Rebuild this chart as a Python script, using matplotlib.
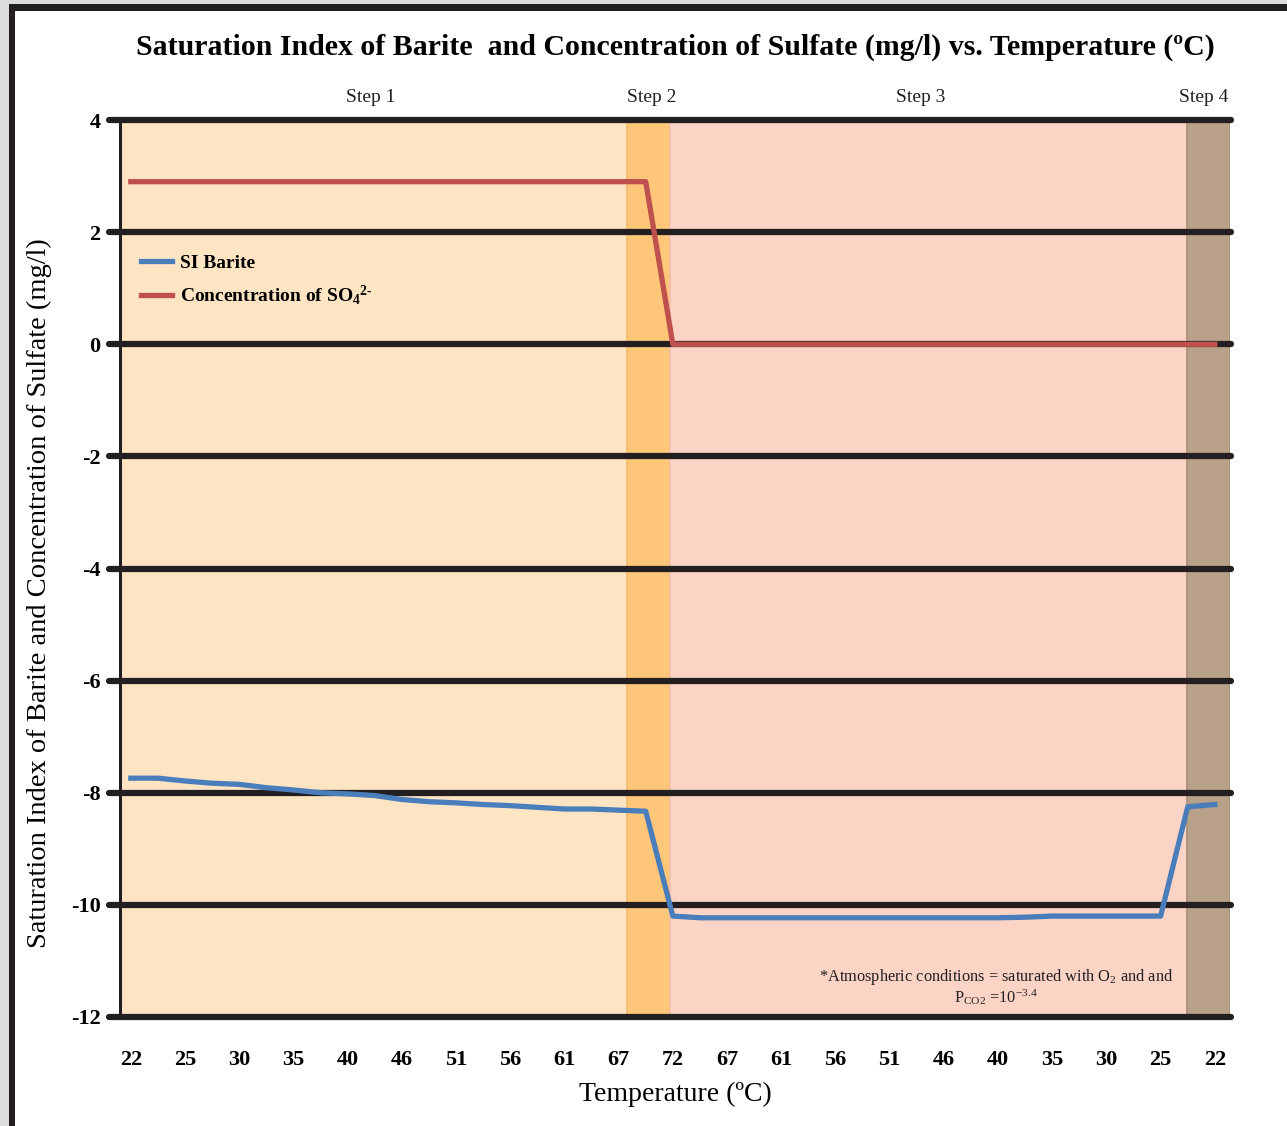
import numpy as np
import matplotlib.pyplot as plt
from matplotlib.patches import Rectangle

plt.rcParams['font.family'] = ['Liberation Serif', 'DejaVu Serif']
plt.rcParams['mathtext.fontset'] = 'custom'
plt.rcParams['mathtext.rm'] = 'Liberation Serif'
plt.rcParams['mathtext.it'] = 'Liberation Serif'
plt.rcParams['mathtext.bf'] = 'Liberation Serif:bold'

# temperature path (heating then cooling), one label per tick
temp_labels = ['22', '25', '30', '35', '40', '46', '51', '56', '61', '67', '72',
               '67', '61', '56', '51', '46', '40', '35', '30', '25', '22']

# model output sampled at half-tick steps
si_barite = [-7.74, -7.74, -7.79, -7.83, -7.85, -7.91, -7.95, -8.00, -8.02, -8.05,
             -8.12, -8.16, -8.18, -8.21, -8.23, -8.26, -8.29, -8.29, -8.31, -8.33,
             -10.20, -10.23, -10.23, -10.23, -10.23, -10.23, -10.23, -10.23, -10.23,
             -10.23, -10.23, -10.23, -10.23, -10.22, -10.20, -10.20, -10.20, -10.20,
             -10.20, -8.25, -8.21]
so4_conc = [2.9] * 20 + [0.0] * 21

step_names = ['Step 1', 'Step 2', 'Step 3', 'Step 4']
step_bounds = [(-0.2, 9.15), (9.15, 9.94), (9.94, 19.48), (19.48, 20.28)]
step_label_x = [4.43, 9.61, 14.58, 19.8]
step_colors = ['#fde4c3', '#fec678', '#fbd4c5', '#b9a089']
step_edges = ['#fde4c3', '#f8b870', '#f5bfa8', '#a89078']

x_pts = np.arange(len(si_barite)) * 0.5
x_ticks = np.arange(len(temp_labels))

W, H = 1287, 1126
fig = plt.figure(figsize=(W / 100, H / 100), dpi=100, facecolor='white')

# screenshot frame (gray strip + dark border on top/left)
fig.add_artist(Rectangle((0, 0), 9 / W, 1, transform=fig.transFigure, color='#dcdcdc', lw=0))
fig.add_artist(Rectangle((0, 1 - 4 / H), 1, 4 / H, transform=fig.transFigure, color='#dcdcdc', lw=0))
fig.add_artist(Rectangle((9 / W, 0), 6 / W, 1 - 4 / H, transform=fig.transFigure, color='#231f20', lw=0))
fig.add_artist(Rectangle((9 / W, 1 - 11 / H), 1, 7 / H, transform=fig.transFigure, color='#231f20', lw=0))

ax = fig.add_axes([120 / W, 1 - 1017 / H, 1110 / W, 897 / H])
ax.set_xlim(-0.2, 20.28)
ax.set_ylim(-12, 4)
ax.set_facecolor('white')

for (x0, x1), c, ec in zip(step_bounds, step_colors, step_edges):
    ax.axvspan(x0, x1, facecolor=c, edgecolor=ec, lw=1.2, zorder=0)

for name, xl in zip(step_names, step_label_x):
    ax.text(xl, 4.25, name, ha='center', va='bottom', fontsize=14, color='#231f20')

yticks = np.arange(-12, 5, 2)
ax.hlines(yticks, -0.4, 20.3, colors='#231f20', lw=4.5, capstyle='round', clip_on=False, zorder=2)

ax.plot(x_pts, si_barite, color='#4a7ebb', lw=3.8, zorder=3, label='SI Barite')
ax.plot(x_pts, so4_conc, color='#c0504d', lw=3.8, zorder=3,
        label='Concentration of SO$_\\mathbf{4}$$^\\mathbf{2\\text{-}}$')

ax.set_xticks(x_ticks)
ax.set_xticklabels(temp_labels, fontsize=16, fontweight='bold')
ax.set_yticks(yticks)
ax.set_yticklabels([str(v) for v in yticks], fontsize=16, fontweight='bold')
ax.tick_params(axis='both', length=0)
ax.tick_params(axis='x', pad=24)
ax.tick_params(axis='y', pad=14)

for s in ['top', 'right', 'bottom']:
    ax.spines[s].set_visible(False)
ax.spines['left'].set_linewidth(2.2)
ax.spines['left'].set_color('#231f20')

ax.set_xlabel('Temperature (ºC)', fontsize=20, labelpad=8)
ax.set_ylabel('Saturation Index of Barite and Concentration of Sulfate (mg/l)', fontsize=20.5)
ax.yaxis.set_label_coords(-0.061, 0.473)
ax.set_title('Saturation Index of Barite  and Concentration of Sulfate (mg/l) vs. Temperature (ºC)',
             fontsize=21.5, fontweight='bold', pad=47)

ax.legend(loc='upper left', bbox_to_anchor=(0.003, 0.87), frameon=False,
          handlelength=1.6, handletextpad=0.4, labelspacing=0.6,
          prop={'family': 'Liberation Serif', 'weight': 'bold', 'size': 14})

ax.text(15.96, -11.47, '*Atmospheric conditions = saturated with O$_2$ and and\nP$_{\\rm CO2}$ =10$^{-3.4}$',
        ha='center', va='center', fontsize=11.8, color='#231f20', linespacing=1.0)

fig.savefig('out.png', dpi=100, facecolor=fig.get_facecolor())
